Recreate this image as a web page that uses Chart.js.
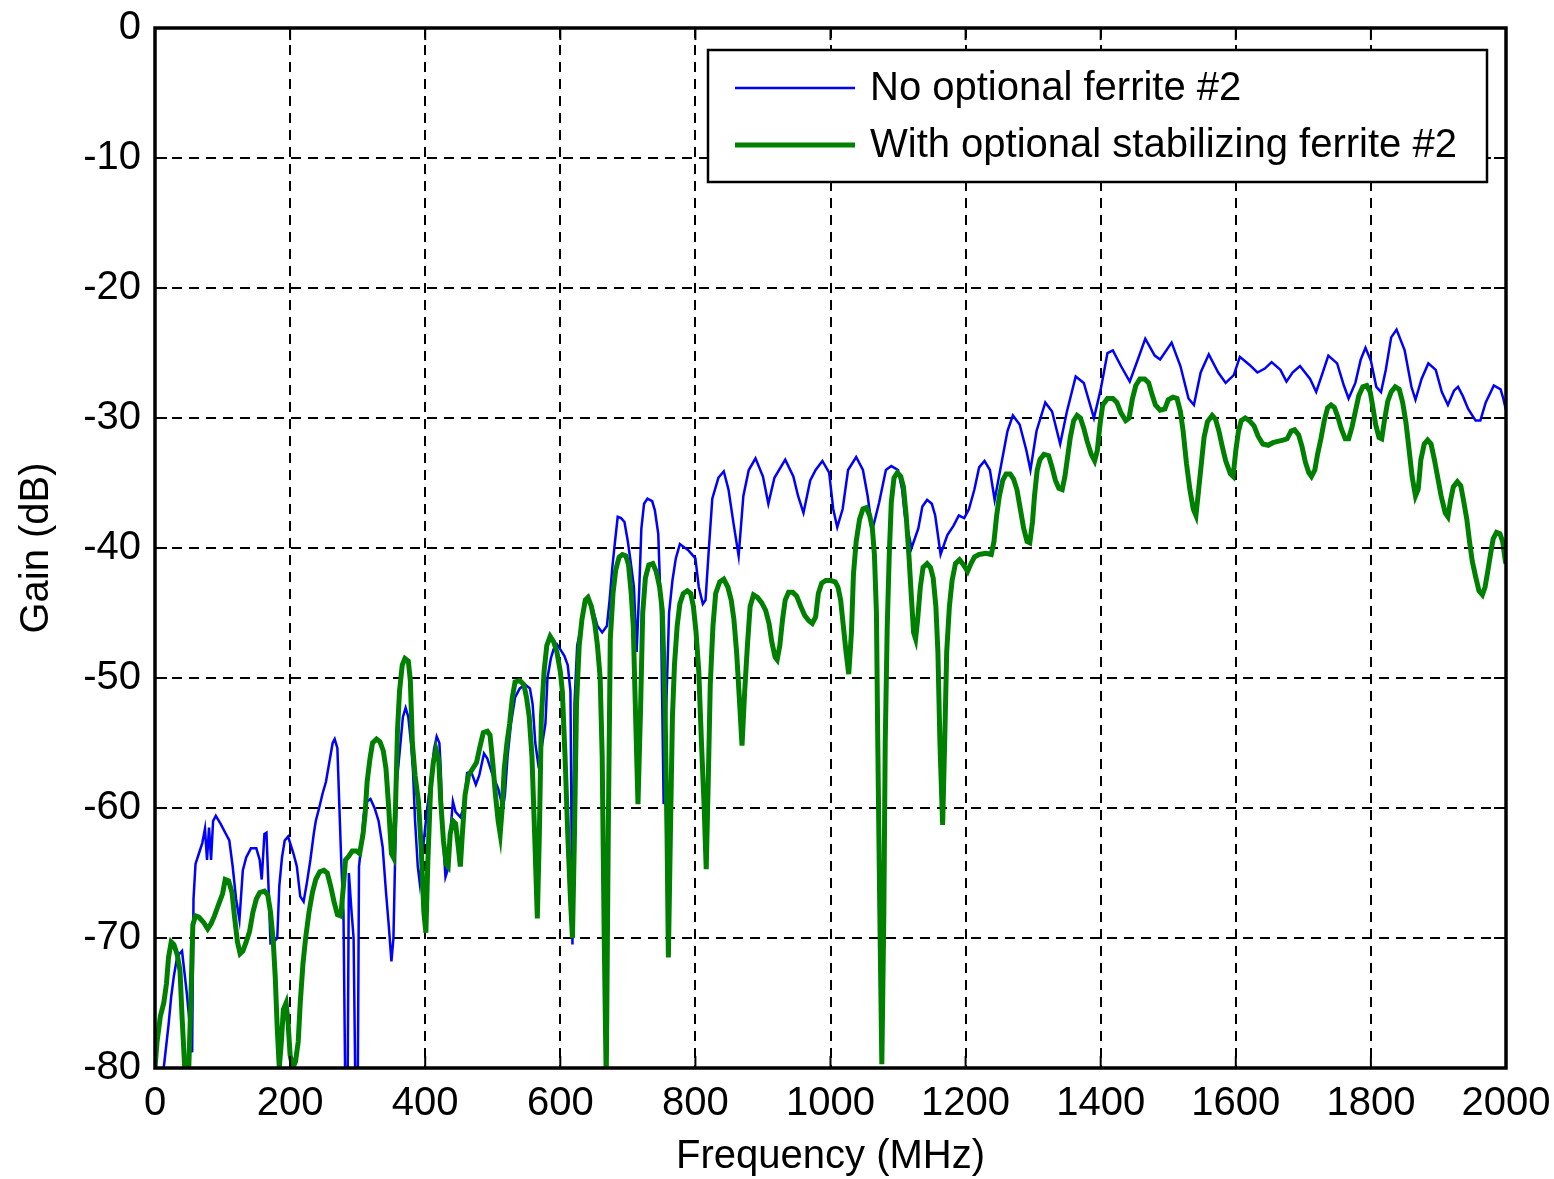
<!DOCTYPE html>
<html>
<head>
<meta charset="utf-8">
<title>Gain vs frequency</title>
<script src="https://cdn.jsdelivr.net/npm/chart.js@4.4.0/dist/chart.umd.min.js"></script>
<style>
  html, body { margin: 0; padding: 0; background: #fff; }
  #wrap { width: 1554px; height: 1179px; }
</style>
</head>
<body>
<div id="wrap"><canvas id="gainChart" width="1554" height="1179"></canvas></div>
<script>
// Series (MHz, dB)
const blueFreq = [
  0, 8, 14, 20, 24, 28, 33, 40, 47, 52,
  55, 57, 60, 65, 70, 74, 77, 80, 83, 86,
  90, 97, 105, 110, 115, 120, 125, 130, 135, 142,
  150, 155, 158, 162, 165, 168, 171, 176, 181, 184,
  188, 192, 197, 205, 210, 215, 220, 225, 230, 235,
  238, 243, 248, 253, 258, 263, 266, 270, 273, 276,
  279, 282, 285, 287, 291, 294, 297, 300, 302, 305,
  309, 314, 319, 325, 331, 337, 342, 346, 350, 353,
  355, 358, 362, 367, 371, 375, 379, 382, 385, 389,
  392, 396, 399, 403, 408, 413, 417, 421, 423, 426,
  430, 433, 437, 441, 445, 452, 457, 462, 468, 475,
  480, 487, 492, 500, 508, 515, 518, 522, 527, 533,
  540, 548, 555, 559, 563, 567, 572, 578, 581, 586,
  590, 595, 600, 606, 611, 615, 618, 621, 625, 629,
  635, 640, 647, 655, 662, 669, 673, 677, 681, 685,
  690, 695, 700, 704, 709, 713, 717, 720, 724, 729,
  736, 740, 745, 749, 753, 757, 761, 766, 771, 777,
  790, 800, 805, 811, 815, 820, 825, 834, 842, 849,
  857, 864, 871, 879, 889, 900, 908, 917, 933, 945,
  952, 960, 970, 978, 988, 998, 1004, 1010, 1018, 1026,
  1038, 1048, 1055, 1062, 1072, 1082, 1090, 1100, 1106, 1110,
  1120, 1130, 1136, 1143, 1150, 1155, 1163, 1173, 1182, 1190,
  1198, 1205, 1213, 1220, 1228, 1236, 1243, 1253, 1262, 1270,
  1280, 1290, 1296, 1305, 1318, 1328, 1340, 1350, 1363, 1375,
  1390, 1400, 1410, 1418, 1430, 1443, 1455, 1466, 1480, 1488,
  1505, 1518, 1530, 1538, 1548, 1560, 1574, 1585, 1597, 1606,
  1620, 1632, 1643, 1653, 1666, 1675, 1684, 1695, 1710, 1719,
  1728, 1737, 1750, 1760, 1767, 1777, 1785, 1792, 1800, 1808,
  1815, 1822, 1830, 1838, 1850, 1860, 1866, 1875, 1885, 1896,
  1905, 1914, 1923, 1929, 1936, 1944, 1955, 1962, 1970, 1982,
  1992, 1996, 2000
];
const blueGain = [
  -83, -82, -79.5, -76.7, -74.5, -72.9, -71.4, -71, -74.2, -77,
  -78.8, -67, -64.3, -63.5, -62.7, -61.6, -64, -61.5, -64, -61,
  -60.6, -61.2, -62, -62.5, -64.5, -67, -68.6, -64.8, -63.8, -63.1,
  -63.1, -64, -65.5, -62, -61.9, -66, -70.4, -70.3, -70, -66,
  -63.8, -62.5, -62.2, -63.5, -64.5, -66.8, -67.2, -65.7, -64, -62,
  -61, -60, -58.9, -58, -56.5, -55, -54.7, -55.4, -60, -64.5,
  -68, -83, -83, -65, -68, -70, -83, -83, -64.5, -63,
  -60.5, -59.5, -59.3, -60, -61, -63, -66.5, -69, -71.8, -70,
  -65, -58, -55.8, -53, -52.3, -53, -55, -57.2, -61, -64.5,
  -65.8, -63.5, -62, -60, -58, -55.5, -54.5, -55, -57, -62,
  -65.3, -64.8, -62, -59.5, -60.3, -60.7, -60, -57.3, -57.2, -58.2,
  -57.5, -55.8, -56.2, -57.5, -58.5, -60, -59, -56, -53.5, -51.5,
  -50.8, -50.5, -50.8, -52, -55, -56.5, -55.5, -53.5, -50, -48.5,
  -47.8, -47.4, -47.8, -48.3, -49, -51, -70.5, -52, -47.5, -46.5,
  -44.5, -43.8, -44.5, -46, -46.5, -46, -44, -41.5, -39.5, -37.6,
  -37.7, -38, -39.5, -41, -43, -48, -43, -38.5, -36.6, -36.2,
  -36.4, -37.1, -38.9, -45, -59.7, -52, -45, -42.5, -40.8, -39.7,
  -40.2, -40.8, -43, -44.3, -44, -40, -36.2, -34.6, -34.1, -35.5,
  -38.3, -40.6, -36, -34, -33.1, -34.5, -36.6, -34.6, -33.2, -34.5,
  -36, -37.3, -34.8, -34, -33.3, -34.2, -37, -38.4, -37, -34,
  -33, -34, -36, -38.6, -36.5, -34, -33.7, -34, -35.5, -37.5,
  -40, -38.5, -36.8, -36.3, -36.6, -37.5, -40.5, -39, -38.3, -37.5,
  -37.7, -37, -35.5, -33.8, -33.3, -34, -36.3, -33.5, -31, -29.8,
  -30.5, -32.5, -34, -31, -28.8, -29.5, -32, -29.5, -26.8, -27.3,
  -30, -27.8, -25, -24.8, -26, -27.2, -25.5, -23.9, -25.2, -25.5,
  -24.2, -26, -28.5, -29, -26.5, -25.1, -26.5, -27.3, -26.7, -25.3,
  -25.9, -26.5, -26.2, -25.7, -26.3, -27.2, -26.5, -26, -27, -28,
  -26.6, -25.2, -25.8, -27.5, -28.5, -27.3, -25.5, -24.6, -25.6, -27.6,
  -28, -26.3, -23.8, -23.2, -24.8, -27.6, -28.6, -27, -25.8, -26.3,
  -28, -29, -27.9, -27.6, -28.3, -29.3, -30.2, -30.2, -28.8, -27.5,
  -27.8, -28.5, -29.4
];
const greenFreq = [
  0, 3, 8, 13, 17, 20, 24, 28, 33, 37,
  40, 44, 50, 53, 56, 60, 65, 72, 78, 83,
  88, 95, 100, 104, 109, 114, 118, 122, 126, 130,
  135, 140, 145, 150, 155, 162, 167, 171, 175, 178,
  181, 184, 187, 190, 194, 197, 200, 204, 208, 212,
  215, 219, 223, 228, 233, 238, 244, 250, 255, 260,
  265, 270, 275, 279, 282, 287, 292, 298, 303, 308,
  311, 314, 318, 322, 328, 333, 338, 342, 346, 350,
  353, 356, 359, 362, 366, 370, 375, 378, 381, 385,
  390, 394, 398, 401, 404, 408, 412, 416, 420, 423,
  427, 431, 434, 437, 441, 445, 449, 452, 455, 459,
  464, 470, 476, 481, 486, 492, 496, 500, 504, 508,
  511, 514, 517, 521, 525, 529, 533, 540, 546, 550,
  554, 558, 562, 566, 569, 572, 576, 580, 585, 590,
  595, 600, 603, 607, 611, 615, 618, 621, 624, 628,
  632, 637, 641, 646, 651, 655, 659, 662, 665, 668,
  671, 674, 678, 682, 687, 692, 697, 701, 705, 708,
  711, 715, 719, 722, 726, 731, 737, 742, 747, 751,
  755, 758, 760, 763, 766, 769, 773, 777, 782, 788,
  793, 797, 801, 805, 809, 813, 816, 819, 822, 826,
  830, 836, 842, 848, 853, 857, 861, 865, 869, 873,
  877, 881, 886, 892, 898, 904, 909, 913, 918, 921,
  925, 929, 933, 938, 944, 950, 956, 962, 968, 973,
  978, 982, 987, 993, 1000, 1007, 1011, 1015, 1019, 1023,
  1027, 1031, 1034, 1038, 1043, 1048, 1053, 1058, 1062, 1065,
  1068, 1070, 1073, 1076, 1079, 1081, 1084, 1087, 1090, 1094,
  1099, 1104, 1108, 1112, 1116, 1120, 1123, 1126, 1129, 1133,
  1137, 1143, 1148, 1152, 1156, 1159, 1162, 1166, 1169, 1172,
  1176, 1180, 1185, 1191, 1197, 1203, 1208, 1213, 1220, 1230,
  1238, 1242, 1246, 1250, 1255, 1260, 1266, 1271, 1276, 1281,
  1286, 1291, 1295, 1299, 1302, 1306, 1310, 1316, 1323, 1328,
  1333, 1338, 1343, 1347, 1351, 1355, 1360, 1365, 1370, 1375,
  1380, 1386, 1391, 1395, 1399, 1403, 1410, 1418, 1424, 1430,
  1437, 1442, 1447, 1452, 1458, 1465, 1471, 1476, 1481, 1488,
  1495, 1500, 1507, 1513, 1518, 1522, 1527, 1532, 1537, 1541,
  1545, 1549, 1553, 1558, 1565, 1570, 1575, 1580, 1585, 1592,
  1596, 1600, 1604, 1608, 1614, 1620, 1627, 1633, 1640, 1648,
  1655, 1662, 1670, 1676, 1682, 1687, 1693, 1698, 1703, 1708,
  1712, 1717, 1721, 1726, 1731, 1736, 1741, 1746, 1751, 1756,
  1762, 1767, 1772, 1777, 1782, 1788, 1794, 1799, 1803, 1807,
  1812, 1816, 1820, 1825, 1830, 1836, 1842, 1847, 1852, 1856,
  1861, 1866, 1870, 1874, 1879, 1884, 1889, 1894, 1899, 1904,
  1910, 1914, 1918, 1922, 1928, 1933, 1937, 1942, 1946, 1950,
  1955, 1960, 1965, 1969, 1973, 1977, 1981, 1986, 1991, 1995,
  1999, 2000
];
const greenGain = [
  -80, -78, -76, -75, -73.5, -71.5, -70.3, -70.5, -71.3, -72.5,
  -76, -80, -80, -75, -69, -68.3, -68.4, -68.8, -69.3, -68.9,
  -68.3, -67.3, -66.6, -65.5, -65.6, -66.5, -68.5, -70.3, -71.2, -71,
  -70.3, -69.5, -68, -67, -66.5, -66.4, -66.7, -68, -70.2, -73,
  -77, -80, -78, -75.5, -75, -76.5, -79, -80, -79.5, -78,
  -75, -72, -70, -68, -66.5, -65.5, -64.9, -64.8, -65, -66,
  -67.2, -68.2, -68.3, -66, -64, -63.7, -63.3, -63.3, -63.5, -62,
  -60.5, -58, -56.3, -55, -54.7, -54.9, -55.6, -57, -60, -63.5,
  -63.8, -60, -54, -51, -49, -48.5, -48.7, -50.2, -55, -57.5,
  -59.5, -63, -68, -69.6, -64, -58.5, -56.5, -55.5, -56.3, -59.5,
  -62.5, -64.3, -64.5, -62, -61, -61.2, -63, -64.5, -62, -59,
  -57.5, -57, -56.5, -55.3, -54.2, -54.1, -54.4, -56.5, -59, -61,
  -62, -60, -57, -55, -53.5, -51.5, -50.3, -50.2, -50.5, -51.5,
  -53, -56, -62, -68.5, -62, -53, -49.5, -47.5, -46.8, -47.2,
  -48, -49.5, -51, -56, -62, -67, -70, -62, -52, -47.5,
  -45.5, -44, -43.8, -44.5, -45.8, -47.5, -50, -56, -70, -81,
  -62, -47, -43.5, -41.7, -40.7, -40.5, -40.6, -41.3, -43.5, -46,
  -52, -59.7, -52, -45, -42.3, -41.3, -41.2, -41.8, -43, -44.8,
  -52, -62, -71.5, -62, -53, -49, -46, -44.3, -43.5, -43.3,
  -43.5, -44.5, -46.5, -49.5, -55, -60, -64.7, -58, -50.5, -46,
  -43.5, -42.6, -42.4, -43, -44, -45.5, -48, -51.5, -55.2, -51,
  -47.5, -44.5, -43.6, -43.8, -44.2, -44.8, -45.8, -47.2, -48.4, -48.6,
  -47.5, -45.5, -44, -43.4, -43.4, -43.7, -44.5, -45.2, -45.6, -45.8,
  -45.3, -43.5, -42.7, -42.5, -42.5, -42.6, -43, -44, -46, -48,
  -49.7, -46.5, -42, -39.5, -37.8, -37, -36.9, -37.5, -38.5, -40.5,
  -45, -55, -68, -79.7, -68, -55, -46, -40.5, -36.5, -34.6,
  -34.2, -34.5, -35.3, -37.5, -40.5, -44, -46.5, -47, -45.5, -43,
  -41.5, -41.2, -41.5, -42.3, -44.5, -48, -55, -61.3, -55, -48,
  -44.5, -42.5, -41.2, -40.9, -41.3, -41.8, -41.2, -40.7, -40.5, -40.4,
  -40.5, -39.5, -37.5, -36, -34.8, -34.3, -34.3, -34.7, -35.5, -37,
  -38.5, -39.5, -39.6, -38, -36, -34, -33.2, -32.8, -32.9, -33.8,
  -34.8, -35.4, -35.5, -34.5, -33, -31.5, -30.2, -29.8, -30, -30.8,
  -31.8, -32.8, -33.3, -32.5, -30.5, -29, -28.5, -28.5, -28.8, -29.6,
  -30.2, -30, -28.5, -27.5, -27, -27, -27.3, -28.2, -29, -29.4,
  -29.3, -28.6, -28.4, -28.5, -29.5, -31, -33.5, -35.5, -37, -37.5,
  -35.5, -33.5, -31.5, -30.3, -29.8, -30.1, -31, -32.2, -33.3, -34.3,
  -34.5, -32.5, -31, -30.2, -30, -30.2, -30.6, -31.4, -32, -32.1,
  -31.9, -31.8, -31.7, -31.6, -31, -30.9, -31.3, -32.2, -33.4, -34.2,
  -34.5, -34, -32.8, -31.6, -30.2, -29.2, -29, -29.2, -29.9, -30.8,
  -31.6, -31.6, -30.7, -29.5, -28.3, -27.6, -27.5, -28, -29.2, -30.5,
  -31.5, -31.6, -30.2, -28.7, -28, -27.6, -27.8, -28.8, -30.4, -32.2,
  -34.5, -36, -35.5, -33.2, -32, -31.7, -32, -33.2, -34.6, -36,
  -37.3, -37.6, -36.3, -35.3, -34.9, -35.2, -36.3, -37.8, -39.5, -41,
  -42.2, -43.3, -43.6, -43, -41.8, -40.5, -39.3, -38.8, -38.9, -39.5,
  -41, -41.2
];
const freqTicks = [0, 200, 400, 600, 800, 1000, 1200, 1400, 1600, 1800, 2000];
const gainTicks = [0, -10, -20, -30, -40, -50, -60, -70, -80];
const seriesLabels = ["No optional ferrite #2", "With optional stabilizing ferrite #2"];
const seriesColors = ["#0000ff", "#008000"];

const fontFamily = "'Liberation Sans', Arial, sans-serif";
const canvas = document.getElementById("gainChart");

// pair freq/gain arrays into {x, y} points
function toPoints(freqs, gains) {
  return freqs.map((f, i) => ({ x: f, y: gains[i] }));
}

// matlab-ish frame, inner ticks and boxed legend
const framePlugin = {
  id: "frame",
  afterDatasetsDraw(chart) {
    const { ctx, chartArea: a, scales } = chart;
    ctx.save();
    ctx.strokeStyle = "#000";
    ctx.lineWidth = 2;
    ctx.beginPath();
    freqTicks.forEach(v => {
      const px = scales.x.getPixelForValue(v);
      ctx.moveTo(px, a.bottom); ctx.lineTo(px, a.bottom - 12);
      ctx.moveTo(px, a.top); ctx.lineTo(px, a.top + 12);
    });
    gainTicks.forEach(v => {
      const py = scales.y.getPixelForValue(v);
      ctx.moveTo(a.left, py); ctx.lineTo(a.left + 12, py);
      ctx.moveTo(a.right, py); ctx.lineTo(a.right - 12, py);
    });
    ctx.stroke();
    ctx.lineWidth = 3.5;
    ctx.strokeRect(a.left, a.top, a.right - a.left, a.bottom - a.top);
    ctx.restore();
  },
  afterDraw(chart) {
    const { ctx, chartArea: a } = chart;
    const boxW = 779, boxH = 132;
    const bx = a.right - 19 - boxW;
    const by = a.top + 22;
    ctx.save();
    ctx.fillStyle = "#fff";
    ctx.fillRect(bx, by, boxW, boxH);
    ctx.strokeStyle = "#000";
    ctx.lineWidth = 2.5;
    ctx.strokeRect(bx, by, boxW, boxH);
    const rows = [by + 38, by + 95];
    const widths = [2.5, 5];
    ctx.font = "40px " + fontFamily;
    ctx.textBaseline = "middle";
    ctx.fillStyle = "#000";
    seriesLabels.forEach((label, i) => {
      ctx.strokeStyle = seriesColors[i];
      ctx.lineWidth = widths[i];
      ctx.beginPath();
      ctx.moveTo(bx + 27, rows[i]);
      ctx.lineTo(bx + 147, rows[i]);
      ctx.stroke();
      ctx.fillText(label, bx + 162, rows[i] + 1);
    });
    ctx.restore();
  }
};

const tickFont = { family: fontFamily, size: 40 };
const plainNumber = v => String(v);

new Chart(canvas.getContext("2d"), {
  type: "line",
  data: {
    datasets: [
      {
        label: seriesLabels[0],
        data: toPoints(blueFreq, blueGain),
        borderColor: seriesColors[0],
        borderWidth: 2.5,
        pointRadius: 0,
        tension: 0,
        fill: false,
        order: 1
      },
      {
        label: seriesLabels[1],
        data: toPoints(greenFreq, greenGain),
        borderColor: seriesColors[1],
        borderWidth: 5,
        pointRadius: 0,
        tension: 0,
        fill: false,
        order: 0
      }
    ]
  },
  options: {
    responsive: false,
    animation: false,
    devicePixelRatio: 1,
    layout: { padding: { top: 28, right: 48, left: 0, bottom: 0 } },
    plugins: {
      legend: { display: false },
      tooltip: { enabled: false }
    },
    scales: {
      x: {
        type: "linear",
        min: 0,
        max: 2000,
        afterBuildTicks: s => { s.ticks = freqTicks.map(v => ({ value: v })); },
        afterFit: s => { s.height = 111; },
        ticks: { font: tickFont, color: "#000", padding: 0, maxRotation: 0, autoSkip: false, callback: plainNumber },
        grid: { color: "#000", lineWidth: 2, drawTicks: true, tickLength: 12, tickColor: "rgba(0,0,0,0)" },
        border: { display: false, dash: [10, 7] },
        title: {
          display: true,
          text: "Frequency (MHz)",
          color: "#000",
          font: { family: fontFamily, size: 40, lineHeight: 1.1 },
          padding: 0
        }
      },
      y: {
        type: "linear",
        min: -80,
        max: 0,
        afterBuildTicks: s => { s.ticks = gainTicks.map(v => ({ value: v })); },
        afterFit: s => { s.width = 155; },
        ticks: { font: tickFont, color: "#000", padding: 0, autoSkip: false, callback: plainNumber },
        grid: { color: "#000", lineWidth: 2, drawTicks: true, tickLength: 14, tickColor: "rgba(0,0,0,0)" },
        border: { display: false, dash: [10, 7] },
        title: {
          display: true,
          text: "Gain (dB)",
          color: "#000",
          font: { family: fontFamily, size: 40, lineHeight: 1.1 },
          padding: { top: 15, bottom: 0 }
        }
      }
    }
  },
  plugins: [framePlugin]
});
</script>
</body>
</html>
